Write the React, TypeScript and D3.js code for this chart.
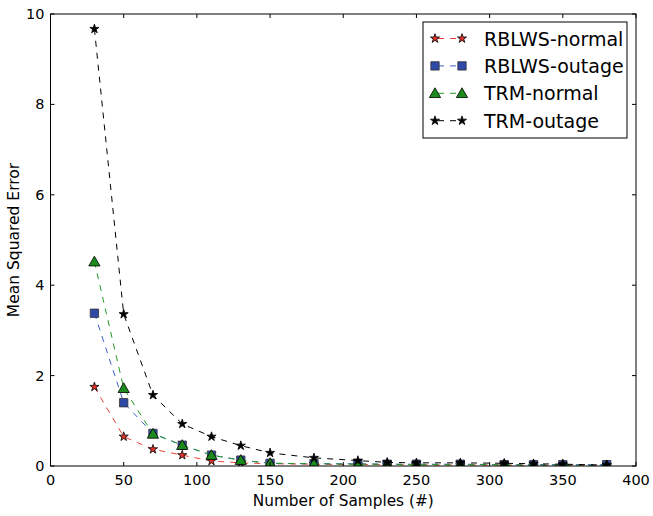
import React from "react";
import * as d3 from "d3";

const samples = [30, 50, 70, 90, 110, 130, 150, 180, 210, 230, 250, 280, 310, 330, 350, 380];
const rblwsNormal = [1.75, 0.65, 0.37, 0.24, 0.11, 0.07, 0.05, 0.04, 0.03, 0.03, 0.02, 0.02, 0.02, 0.01, 0.01, 0.01];
const rblwsOutage = [3.38, 1.4, 0.72, 0.46, 0.24, 0.13, 0.06, 0.05, 0.05, 0.04, 0.04, 0.04, 0.03, 0.03, 0.03, 0.03];
const trmNormal = [4.52, 1.72, 0.71, 0.46, 0.24, 0.13, 0.06, 0.05, 0.04, 0.04, 0.03, 0.03, 0.03, 0.02, 0.02, 0.01];
const trmOutage = [9.67, 3.36, 1.57, 0.93, 0.65, 0.45, 0.29, 0.18, 0.12, 0.08, 0.07, 0.07, 0.06, 0.05, 0.04, 0.02];

const xTicks = [0, 50, 100, 150, 200, 250, 300, 350, 400];
const yTicks = [0, 2, 4, 6, 8, 10];

type Series = {
  name: string;
  values: number[];
  line: string;
  fill: string;
  stroke: string;
  symbol: d3.SymbolType;
  size: number;
};

const series: Series[] = [
  { name: "RBLWS-normal", values: rblwsNormal, line: "#e8423a", fill: "#e0302a", stroke: "#000", symbol: d3.symbolStar, size: 26 },
  { name: "RBLWS-outage", values: rblwsOutage, line: "#3d5fc4", fill: "#2f4aa6", stroke: "#333", symbol: d3.symbolSquare, size: 70 },
  { name: "TRM-normal", values: trmNormal, line: "#239a23", fill: "#1c8a1c", stroke: "#000", symbol: d3.symbolTriangle, size: 55 },
  { name: "TRM-outage", values: trmOutage, line: "#000", fill: "#000", stroke: "#000", symbol: d3.symbolStar, size: 26 },
];

const W = 653;
const H = 516;
const L = 50.5;
const R = 636;
const T = 14;
const B = 466;
const font = "DejaVu Sans, sans-serif";

export default function App() {
  const x = d3.scaleLinear().domain([0, 400]).range([L, R]);
  const y = d3.scaleLinear().domain([0, 10]).range([B, T]);
  const line = d3.line<number>().x((_, i) => x(samples[i])).y((v) => y(v));
  const sym = (s: Series) => d3.symbol().type(s.symbol).size(s.size)() as string;
  const nudge = (s: Series) => (s.symbol === d3.symbolTriangle ? 1 : 0);

  const legX = 423;
  const legY = 22;
  const rowH = 27.4;

  return (
    <svg width={W} height={H} style={{ position: "absolute", left: 0, top: 0, background: "#fff" }} fontFamily={font}>
      <defs>
        <clipPath id="plot">
          <rect x={L} y={T} width={R - L} height={B - T} />
        </clipPath>
      </defs>
      <rect x={0} y={0} width={W} height={H} fill="#fff" />
      <g clipPath="url(#plot)">
        {series.map((s) => (
          <g key={s.name}>
            <path d={line(s.values) as string} fill="none" stroke={s.line} strokeWidth={1} strokeDasharray="6,6" />
            {s.values.map((v, i) => (
              <path
                key={i}
                d={sym(s)}
                transform={`translate(${x(samples[i])},${y(v) + nudge(s)})`}
                fill={s.fill}
                stroke={s.stroke}
                strokeWidth={0.8}
              />
            ))}
          </g>
        ))}
      </g>
      {/* axes frame */}
      <rect x={L} y={T} width={R - L} height={B - T} fill="none" stroke="#000" strokeWidth={1} />
      {xTicks.map((t) => (
        <g key={"x" + t}>
          <line x1={x(t)} x2={x(t)} y1={B} y2={B - 4} stroke="#000" />
          <line x1={x(t)} x2={x(t)} y1={T} y2={T + 4} stroke="#000" />
          <text x={x(t)} y={B + 19} fontSize={14.5} textAnchor="middle">{t}</text>
        </g>
      ))}
      {yTicks.map((t) => (
        <g key={"y" + t}>
          <line x1={L} x2={L + 4} y1={y(t)} y2={y(t)} stroke="#000" />
          <line x1={R} x2={R - 4} y1={y(t)} y2={y(t)} stroke="#000" />
          <text x={L - 6} y={y(t) + 5} fontSize={14.5} textAnchor="end">{t}</text>
        </g>
      ))}
      <text x={(L + R) / 2} y={506} fontSize={15.3} textAnchor="middle">Number of Samples (#)</text>
      <text transform={`translate(19,${(T + B) / 2}) rotate(-90)`} fontSize={15.5} textAnchor="middle">Mean Squared Error</text>
      {/* legend */}
      <rect x={legX} y={legY} width={204} height={116} fill="#fff" stroke="#000" strokeWidth={1} />
      {series.map((s, i) => {
        const cy = legY + 16.5 + i * rowH;
        return (
          <g key={"leg" + s.name}>
            <line x1={435} x2={462} y1={cy} y2={cy} stroke={s.line} strokeDasharray="6,6" strokeDashoffset={-3} />
            <path d={sym(s)} transform={`translate(435,${cy + nudge(s)})`} fill={s.fill} stroke={s.stroke} strokeWidth={0.8} />
            <path d={sym(s)} transform={`translate(462,${cy + nudge(s)})`} fill={s.fill} stroke={s.stroke} strokeWidth={0.8} />
            <text x={484} y={cy + 7} fontSize={19}>{s.name}</text>
          </g>
        );
      })}
    </svg>
  );
}
